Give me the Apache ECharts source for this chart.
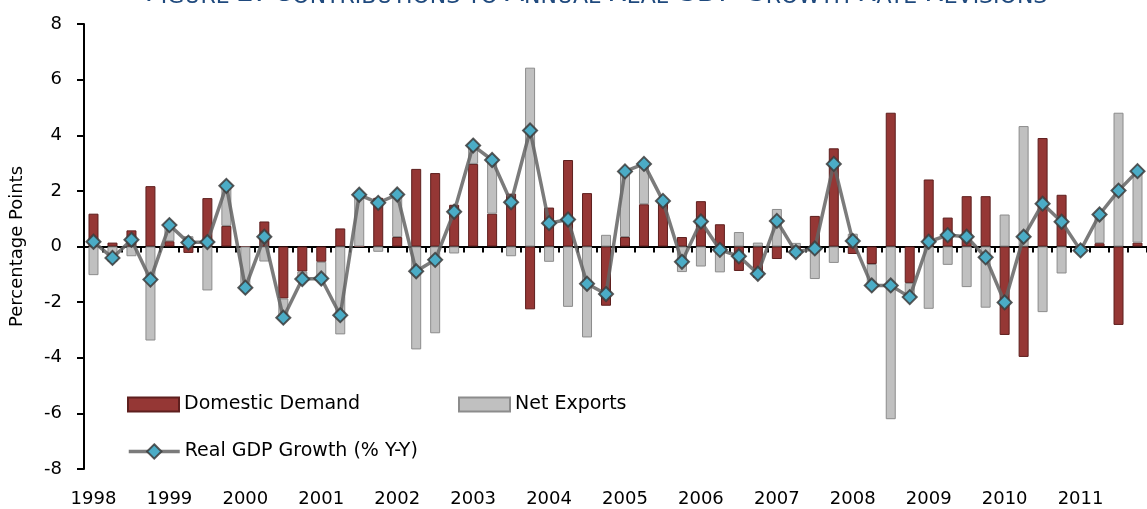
<!DOCTYPE html>
<html>
<head>
<meta charset="utf-8">
<script src="https://cdn.jsdelivr.net/npm/echarts@6/dist/echarts.min.js"></script>
<style>
  html, body { margin: 0; padding: 0; background: #fff; }
  #chart { width: 1147px; height: 509px; }
</style>
</head>
<body>
<div id="chart"></div>
<script>
// quarterly, 1998Q1 .. 2011Q4
const years = ['1998', '1999', '2000', '2001', '2002', '2003', '2004',
  '2005', '2006', '2007', '2008', '2009', '2010', '2011']
const quarters = ['Q1', 'Q2', 'Q3', 'Q4']

const domesticDemand = [
  1.18, 0.14, 0.58, 2.17,   0.19, -0.23, 1.74, 0.74,
  0, 0.9, -1.87, -0.9,      -0.55, 0.65, 0, 1.75,
  0.34, 2.79, 2.64, 1.5,    2.97, 1.18, 1.9, -2.26,
  1.4, 3.11, 1.92, -2.13,   0.34, 1.52, 1.64, 0.34,
  1.63, 0.8, -0.88, -1.12,  -0.45, -0.33, 1.1, 3.53,
  -0.27, -0.63, 4.81, -1.31, 2.41, 1.04, 1.81, 1.81,
  -3.18, -3.97, 3.9, 1.86,  0, 0.12, -2.82, 0.14
]
const netExports = [
  -1.03, -0.55, -0.35, -3.38, 0.58, 0.37, -1.58, 1.44,
  -1.48, -0.54, -0.68, -0.27, -0.6, -3.16, 1.86, -0.19,
  1.55, -3.7, -3.12, -0.25,   0.66, 1.93, -0.35, 6.43,
  -0.55, -2.17, -3.27, 0.42,  2.36, 1.45, 0, -0.92,
  -0.72, -0.93, 0.52, 0.14,   1.35, 0.13, -1.17, -0.59,
  0.46, -0.78, -6.21, -0.51,  -2.24, -0.66, -1.46, -2.2,
  1.15, 4.33, -2.36, -0.97,   -0.14, 1.03, 4.81, 2.57
]
const gdpGrowth = [
  0.17, -0.41, 0.24, -1.19,  0.77, 0.14, 0.16, 2.18,
  -1.48, 0.35, -2.56, -1.17, -1.15, -2.47, 1.86, 1.57,
  1.87, -0.89, -0.48, 1.25,  3.63, 3.11, 1.59, 4.17,
  0.84, 0.97, -1.34, -1.71,  2.7, 2.97, 1.64, -0.55,
  0.9, -0.12, -0.35, -0.98,  0.92, -0.2, -0.07, 2.97,
  0.2, -1.4, -1.4, -1.82,    0.17, 0.41, 0.35, -0.39,
  -2.01, 0.35, 1.54, 0.89,   -0.14, 1.15, 2.01, 2.71
]

const categories = []
years.forEach(y => quarters.forEach(q => categories.push(y + q)))

const FONT = '"DejaVu Sans", sans-serif'
const titleText = 'Figure 2: Contributions to Annual Real GDP Growth Rate Revisions'

// word-style small caps: real capitals big, the rest small
function smallCaps(s) {
  let out = '', cur = null, buf = ''
  for (const ch of s) {
    const st = ch === ' ' ? (cur || 's') : (/[A-Z0-9:]/.test(ch) ? 'b' : 's')
    if (st !== cur && buf) { out += '{' + cur + '|' + buf + '}'; buf = '' }
    cur = st
    buf += ch.toUpperCase()
  }
  if (buf) out += '{' + cur + '|' + buf + '}'
  return out
}

const lineColor = 'rgba(100,100,100,0.85)'
const legendText = { fontSize: 19, color: '#000', fontFamily: FONT }

const chart = echarts.init(document.getElementById('chart'), null, { renderer: 'canvas' })

chart.setOption({
  animation: false,
  textStyle: { fontFamily: FONT },
  graphic: [{
    type: 'text',
    x: 596,
    y: 8,
    silent: true,
    style: {
      text: smallCaps(titleText),
      align: 'center',
      verticalAlign: 'bottom',
      fill: '#1f497d',
      fontFamily: 'DejaVu Sans',
      rich: {
        b: { fontSize: 28, fontFamily: 'DejaVu Sans', fill: '#1f497d', verticalAlign: 'bottom' },
        s: { fontSize: 22, fontFamily: 'DejaVu Sans', fill: '#1f497d', verticalAlign: 'bottom' }
      }
    }
  }],
  legend: [
    {
      data: ['Domestic Demand'], left: 127, top: 395, icon: 'rect', padding: 0,
      itemWidth: 51, itemHeight: 14, selectedMode: false, textStyle: legendText
    },
    {
      data: ['Net Exports'], left: 458, top: 395, icon: 'rect', padding: 0,
      itemWidth: 51, itemHeight: 14, selectedMode: false, textStyle: legendText
    },
    {
      data: ['Real GDP Growth (% Y-Y)'], left: 127, top: 442, padding: 0,
      itemWidth: 51, itemHeight: 18, selectedMode: false, textStyle: legendText,
      lineStyle: { width: 3.5, color: lineColor }
    }
  ],
  grid: { left: 84, top: 24, width: 1071, height: 445, containLabel: false },
  xAxis: [
    {
      type: 'category',
      data: categories,
      position: 'bottom',
      axisLine: { onZero: true, lineStyle: { color: '#000', width: 2 } },
      axisTick: { show: true, interval: 0, length: 6, lineStyle: { color: '#000', width: 2 } },
      axisLabel: { show: false },
      splitLine: { show: false }
    },
    {
      type: 'category',
      data: categories,
      position: 'bottom',
      axisLine: { show: false, onZero: false },
      axisTick: { show: false },
      axisLabel: {
        interval: 3,
        margin: 21,
        fontSize: 18,
        color: '#000',
        fontFamily: FONT,
        formatter: v => v.slice(0, 4)
      },
      splitLine: { show: false }
    }
  ],
  yAxis: {
    type: 'value',
    min: -8,
    max: 8,
    interval: 2,
    name: 'Percentage Points',
    nameLocation: 'middle',
    nameGap: 58,
    nameTextStyle: { fontSize: 18, color: '#000', fontFamily: FONT },
    axisLine: { show: true, lineStyle: { color: '#000', width: 2 } },
    axisTick: { show: true, length: 7, lineStyle: { color: '#000', width: 2 } },
    axisLabel: { fontSize: 18, color: '#000', margin: 22, fontFamily: FONT },
    splitLine: { show: false }
  },
  series: [
    {
      name: 'Domestic Demand',
      type: 'bar',
      stack: 'contrib',
      barWidth: 10,
      data: domesticDemand,
      itemStyle: { color: '#953735', borderColor: '#5e1f1e', borderWidth: 1 }
    },
    {
      name: 'Net Exports',
      type: 'bar',
      stack: 'contrib',
      barWidth: 10,
      data: netExports,
      itemStyle: { color: '#c0c0c0', borderColor: '#8c8c8c', borderWidth: 1 }
    },
    {
      name: 'Real GDP Growth (% Y-Y)',
      type: 'line',
      data: gdpGrowth,
      symbol: 'diamond',
      symbolSize: 14,
      showSymbol: true,
      showAllSymbol: true,
      z: 5,
      lineStyle: { color: lineColor, width: 3.5 },
      itemStyle: { color: '#4bacc6', borderColor: 'rgba(60,60,60,0.85)', borderWidth: 2 }
    }
  ]
})
</script>
</body>
</html>
